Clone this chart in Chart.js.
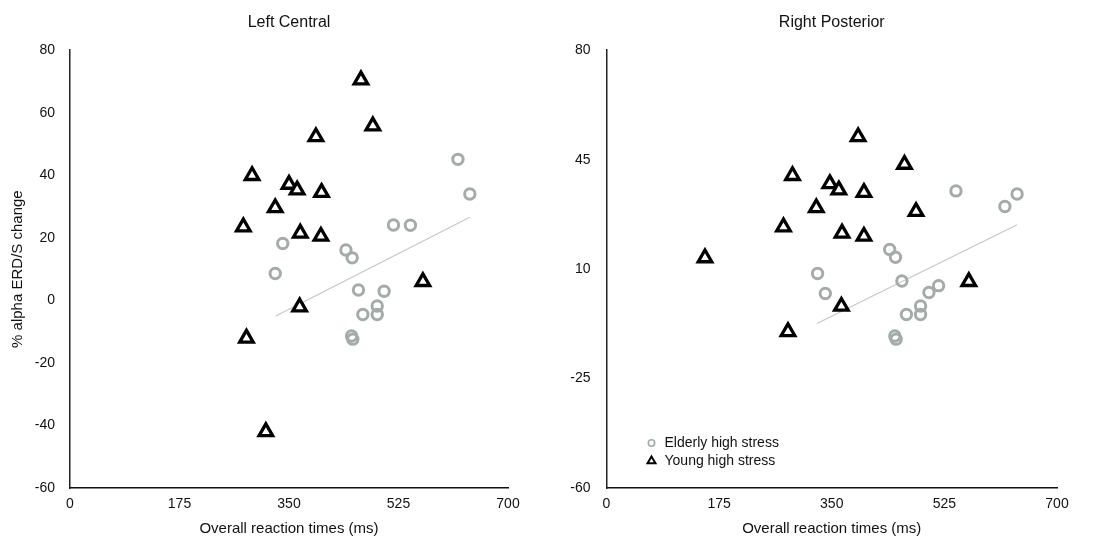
<!DOCTYPE html>
<html>
<head>
<meta charset="utf-8">
<script src="https://cdn.jsdelivr.net/npm/chart.js@4.4.1/dist/chart.umd.min.js"></script>
<style>
  html,body{margin:0;padding:0;background:#fff;}
  #wrap{display:flex;width:1093px;height:540px;}
  .box{position:relative;height:540px;}
</style>
</head>
<body>
<div id="wrap">
  <div class="box" style="width:546px"><canvas id="leftChart"></canvas></div>
  <div class="box" style="width:547px"><canvas id="rightChart"></canvas></div>
</div>
<script>
// Left Central
const leftYoungX   = [465, 484, 393, 291, 350, 363, 402, 328, 277, 368, 401, 564, 367, 282, 313];
const leftYoungY   = [70.5, 55.8, 52.3, 39.9, 37.1, 35.3, 34.5, 29.6, 23.5, 21.5, 20.5, 6.0, -2.1, -12.1, -42.0];
const leftElderX   = [620, 639, 517, 544, 340, 441, 451, 328, 461, 502, 491, 468, 491, 450, 452];
const leftElderY   = [45.1, 34, 24.1, 24, 18.2, 16.1, 13.6, 8.6, 3.3, 2.9, -1.8, -4.5, -4.5, -11.4, -12.4];
const leftFitX     = [329, 639];
const leftFitY     = [-5, 26.6];

// Right Posterior
const rightYoungX  = [391, 463, 289, 347, 361, 400, 326, 481, 275, 366, 400, 153, 563, 365, 282];
const rightYoungY  = [52.3, 43.5, 39.9, 37.3, 35.3, 34.5, 29.6, 28.4, 23.5, 21.5, 20.5, 13.6, 6.0, -1.9, -10.0];
const rightElderX  = [543, 638, 619, 440, 449, 328, 459, 340, 516, 501, 488, 466, 488, 448, 450];
const rightElderY  = [35, 34, 30, 16.3, 13.8, 8.6, 6.2, 2.2, 4.7, 2.5, -1.8, -4.5, -4.5, -11.4, -12.4];
const rightFitX    = [327, 638];
const rightFitY    = [-7.4, 24.2];

const xTicks      = [0, 175, 350, 525, 700];
const leftYTicks  = [-60, -40, -20, 0, 20, 40, 60, 80];
const rightYTicks = [-60, -25, 10, 45, 80];

const seriesNames = ['Elderly high stress', 'Young high stress'];

const FONT = '"Liberation Sans", Arial, Helvetica, sans-serif';
const ELDER_COL = '#a3aca8';
const pts = (xs, ys) => xs.map((x, i) => ({x: x, y: ys[i]}));

// small legend drawn inside the plot area (bottom-left)
const innerLegend = {
  id: 'innerLegend',
  afterDraw(chart, args, opts) {
    if (!opts.show) return;
    const ctx = chart.ctx, a = chart.chartArea;
    const x0 = a.left + 45, y0 = a.bottom - 45;
    ctx.save();
    ctx.font = '14px ' + FONT;
    ctx.textBaseline = 'middle';
    ctx.fillStyle = '#111';
    // elderly
    ctx.beginPath(); ctx.arc(x0, y0, 3.2, 0, Math.PI * 2);
    ctx.strokeStyle = ELDER_COL; ctx.lineWidth = 1.6; ctx.stroke();
    ctx.fillText(seriesNames[0], x0 + 13, y0 + 0.5);
    // young
    const ty = y0 + 18, r = 4.6;
    ctx.beginPath();
    ctx.moveTo(x0, ty - r);
    ctx.lineTo(x0 + r * 0.866, ty + r * 0.5);
    ctx.lineTo(x0 - r * 0.866, ty + r * 0.5);
    ctx.closePath();
    ctx.strokeStyle = '#000'; ctx.lineWidth = 2; ctx.lineJoin = 'miter'; ctx.stroke();
    ctx.fillText(seriesNames[1], x0 + 13, ty + 0.5);
    ctx.restore();
  }
};

function makeChart(id, title, elderX, elderY, youngX, youngY, fitX, fitY, yTicks, opt) {
  new Chart(document.getElementById(id), {
    type: 'scatter',
    data: {
      datasets: [
        {label: 'fit', type: 'line', data: pts(fitX, fitY), borderColor: '#c4c8c6', borderWidth: 1.2,
         pointRadius: 0, fill: false, order: 3},
        {label: seriesNames[0], data: pts(elderX, elderY), pointStyle: 'circle', pointRadius: 5.2,
         pointBorderWidth: 3, borderColor: ELDER_COL, backgroundColor: 'rgba(255,255,255,0)', order: 2},
        {label: seriesNames[1], data: pts(youngX, youngY), pointStyle: 'triangle', pointRadius: 7.8,
         pointBorderWidth: 3.3, borderColor: '#000', backgroundColor: '#fff', order: 1}
      ]
    },
    options: {
      responsive: true, maintainAspectRatio: false, animation: false,
      layout: {padding: {left: 0, right: opt.padRight, top: 0, bottom: 0}},
      plugins: {
        legend: {display: false},
        tooltip: {enabled: false},
        title: {display: true, text: title, fullSize: false, color: '#111',
                font: {family: FONT, size: 16, weight: 'normal'}, padding: {top: 13, bottom: 18}},
        innerLegend: {show: opt.legend}
      },
      scales: {
        x: {
          type: 'linear', min: 0, max: 700,
          afterBuildTicks: s => { s.ticks = xTicks.map(v => ({value: v})); },
          afterFit: s => { s.height = 52; },
          grid: {display: false, drawTicks: false},
          border: {display: true, color: '#111', width: 1.5},
          ticks: {color: '#111', padding: 8, maxRotation: 0, font: {family: FONT, size: 14}},
          title: {display: true, text: 'Overall reaction times (ms)', color: '#111',
                  font: {family: FONT, size: 15}, padding: {top: 0, bottom: 2}}
        },
        y: {
          type: 'linear', min: -60, max: 80,
          afterBuildTicks: s => { s.ticks = yTicks.map(v => ({value: v})); },
          afterFit: s => { s.width = opt.yWidth; },
          grid: {display: false, drawTicks: false},
          border: {display: true, color: '#222', width: 1.5},
          ticks: {color: '#111', padding: opt.yPad, font: {family: FONT, size: 14}},
          title: {display: opt.yTitle, text: '% alpha ERD/S change', color: '#111',
                  font: {family: FONT, size: 15}, padding: {top: 9, bottom: 0}}
        }
      }
    },
    plugins: [innerLegend]
  });
}

makeChart('leftChart', 'Left Central', leftElderX, leftElderY, leftYoungX, leftYoungY,
          leftFitX, leftFitY, leftYTicks, {padRight: 38, yWidth: 70, yPad: 15, yTitle: true, legend: false});
makeChart('rightChart', 'Right Posterior', rightElderX, rightElderY, rightYoungX, rightYoungY,
          rightFitX, rightFitY, rightYTicks, {padRight: 36, yWidth: 60.5, yPad: 16, yTitle: false, legend: true});
</script>
</body>
</html>
